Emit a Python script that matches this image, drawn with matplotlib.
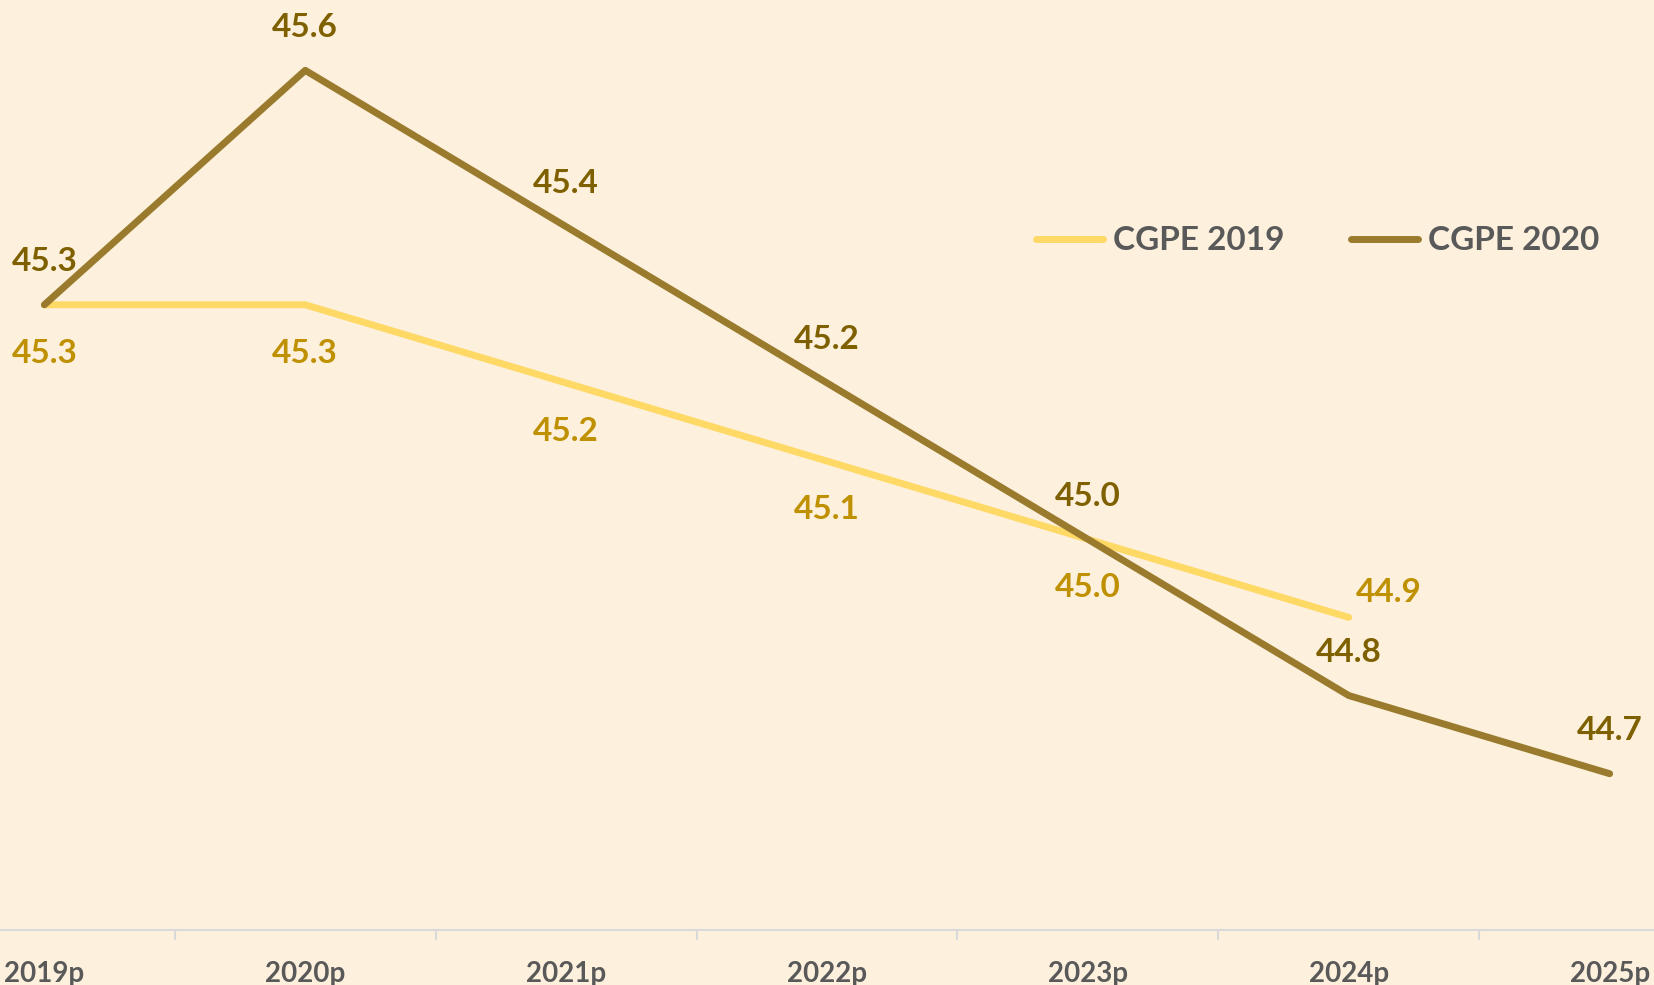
import matplotlib
matplotlib.use("Agg")
import matplotlib.pyplot as plt
from matplotlib.ticker import FixedLocator

categories = ["2019p", "2020p", "2021p", "2022p", "2023p", "2024p", "2025p"]
cgpe2019 = [45.3, 45.3, 45.2, 45.1, 45.0, 44.9]
cgpe2020 = [45.3, 45.6, 45.4, 45.2, 45.0, 44.8, 44.7]
series_names = ["CGPE 2019", "CGPE 2020"]

bg = "#FDF1DE"
c19_line, c19_text = "#FFD966", "#BF9000"
c20_line, c20_text = "#9A7B2E", "#7F6000"

plt.rcParams['font.family'] = ['Lato', 'DejaVu Sans']
fig = plt.figure(figsize=(16.54, 9.85), dpi=100, facecolor=bg)
ax = fig.add_axes([0, 55/985, 1, 930/985])
ax.set_facecolor(bg)

x19 = list(range(len(cgpe2019)))
x20 = list(range(len(cgpe2020)))
l1, = ax.plot(x19, cgpe2019, color=c19_line, lw=5, solid_capstyle='round', solid_joinstyle='round', label=series_names[0])
l2, = ax.plot(x20, cgpe2020, color=c20_line, lw=5, solid_capstyle='round', solid_joinstyle='round', label=series_names[1])

fs = 24
for i, v in enumerate(cgpe2019):
    if i == len(cgpe2019) - 1:
        ax.annotate(f"{v:.1f}", (i, v), xytext=(29, 18), textcoords='offset points',
                    ha='center', va='center', fontsize=fs, fontweight='bold', color=c19_text)
    else:
        ax.annotate(f"{v:.1f}", (i, v), xytext=(0, -35), textcoords='offset points',
                    ha='center', va='center', fontsize=fs, fontweight='bold', color=c19_text)
for i, v in enumerate(cgpe2020):
    ax.annotate(f"{v:.1f}", (i, v), xytext=(0, 31), textcoords='offset points',
                ha='center', va='center', fontsize=fs, fontweight='bold', color=c20_text)

ax.set_xlim(-0.17, 6.17)
ax.set_ylim(44.5, 45.69)
ax.set_yticks([])
ax.set_xticks(range(len(categories)))
ax.set_xticklabels(categories, fontsize=20, fontweight='bold', color="#595959")
ax.xaxis.set_minor_locator(FixedLocator([i + 0.5 for i in range(-1, len(categories))]))
ax.tick_params(axis='x', which='major', length=0, pad=22)
ax.tick_params(axis='x', which='minor', length=7, width=1.5, color="#D9D9D9", direction='out')
for s in ['top', 'left', 'right']:
    ax.spines[s].set_visible(False)
ax.spines['bottom'].set_color("#D9D9D9")
ax.spines['bottom'].set_linewidth(1.5)

leg = fig.legend(handles=[l1, l2], loc='center left', bbox_to_anchor=(1036/1654, 1 - 241/985),
                 ncol=2, frameon=False, fontsize=fs, borderpad=0, borderaxespad=0,
                 handlelength=2.0, handletextpad=0.3, columnspacing=2.0)
for t in leg.get_texts():
    t.set_color("#595959")
    t.set_fontweight('bold')

fig.savefig("out.png", dpi=100, facecolor=bg)
